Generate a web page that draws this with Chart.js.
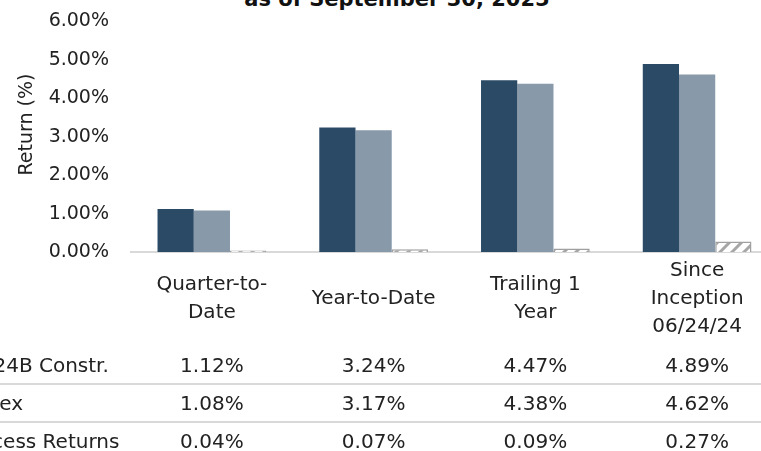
<!DOCTYPE html>
<html>
<head>
<meta charset="utf-8">
<script src="https://cdn.jsdelivr.net/npm/chart.js@4.4.0/dist/chart.umd.min.js"></script>
<style>
  html, body { margin: 0; padding: 0; background: #fff; }
  body { width: 761px; height: 451px; overflow: hidden; position: relative; font-family: "DejaVu Sans", sans-serif; color: #222; }
  #title { position: absolute; left: 197px; width: 400px; top: -11px; text-align: center; font-weight: bold; font-size: 21px; line-height: 21px; color: #111; white-space: nowrap; }
  #chart { position: absolute; left: 0; top: -12px; }
  #table { position: absolute; left: 0; top: 347px; width: 761px; }
  .row { position: relative; height: 36px; border-bottom: 2px solid #d9d9d9; }
  .row:last-child { border-bottom: none; }
  .cell { position: absolute; top: 0; line-height: 36px; font-size: 20px; white-space: nowrap; }
  .label { left: -32px; }
  .val { transform: translateX(-50%); }
</style>
</head>
<body>
<div id="title">as of September 30, 2025</div>
<canvas id="chart" width="778" height="386"></canvas>
<div id="table"></div>
<script>
(function() {
    'use strict';

    // Chart data
    const categories = [['Quarter-to-', 'Date'], 'Year-to-Date', ['Trailing 1', 'Year'], ['Since', 'Inception', '06/24/24']];
    const seriesNames = ['2024B Constr.', 'Index', 'Excess Returns'];
    const strategyReturns = [1.12, 3.24, 4.47, 4.89];
    const indexReturns = [1.08, 3.17, 4.38, 4.62];
    const excessReturns = [0.04, 0.07, 0.09, 0.27];
    const yTicks = [0, 1, 2, 3, 4, 5, 6];

    const font = 'DejaVu Sans';

    // Diagonal hatch fill for the excess bars
    function hatchPattern() {
        const c = document.createElement('canvas');
        c.width = 12;
        c.height = 12;
        const g = c.getContext('2d');
        g.fillStyle = '#ffffff';
        g.fillRect(0, 0, 12, 12);
        g.strokeStyle = '#a6a6a6';
        g.lineWidth = 3;
        g.beginPath();
        g.moveTo(-3, 15); g.lineTo(15, -3);
        g.moveTo(-3, 3); g.lineTo(3, -3);
        g.moveTo(9, 15); g.lineTo(15, 9);
        g.stroke();
        return g.createPattern(c, 'repeat');
    }

    const chart = new Chart(document.getElementById('chart'), {
        type: 'bar',
        data: {
            labels: categories,
            datasets: [
                { label: seriesNames[0], data: strategyReturns, backgroundColor: '#2B4A66' },
                { label: seriesNames[1], data: indexReturns, backgroundColor: '#8899AA' },
                { label: seriesNames[2], data: excessReturns, backgroundColor: hatchPattern(), borderColor: '#a0a0a0', borderWidth: 1.5 }
            ]
        },
        options: {
            responsive: false,
            animation: false,
            layout: { padding: { top: 7, left: 0, right: 0, bottom: 0 } },
            datasets: { bar: { categoryPercentage: 0.672, barPercentage: 1.0 } },
            plugins: {
                legend: { display: false },
                tooltip: { enabled: false }
            },
            scales: {
                x: {
                    grid: { display: false, drawTicks: false },
                    border: { display: true, color: '#d9d9d9', width: 2 },
                    ticks: {
                        color: '#222',
                        padding: 19,
                        crossAlign: 'center',
                        maxRotation: 0,
                        autoSkip: false,
                        font: { family: font, size: 20, lineHeight: 1.4 }
                    }
                },
                y: {
                    min: 0,
                    max: 6,
                    afterFit: function(s) { s.width = 131; },
                    afterBuildTicks: function(s) { s.ticks = yTicks.map(v => ({ value: v })); },
                    grid: { display: false, drawTicks: false },
                    border: { display: false },
                    ticks: {
                        color: '#222',
                        padding: 22,
                        callback: v => v.toFixed(2) + '%',
                        font: { family: font, size: 19 }
                    },
                    title: {
                        display: true,
                        text: '    Return (%)',
                        color: '#222',
                        padding: { top: 16, bottom: 0 },
                        font: { family: font, size: 19 }
                    }
                }
            }
        }
    });

    // Data table under the chart, columns aligned to the category scale
    const rows = [strategyReturns, indexReturns, excessReturns];
    const table = document.getElementById('table');
    rows.forEach((vals, r) => {
        const row = document.createElement('div');
        row.className = 'row';
        const lab = document.createElement('div');
        lab.className = 'cell label';
        lab.textContent = seriesNames[r];
        row.appendChild(lab);
        vals.forEach((v, i) => {
            const cell = document.createElement('div');
            cell.className = 'cell val';
            cell.style.left = chart.scales.x.getPixelForValue(i) + 'px';
            cell.textContent = v.toFixed(2) + '%';
            row.appendChild(cell);
        });
        table.appendChild(row);
    });
})();
</script>
</body>
</html>
